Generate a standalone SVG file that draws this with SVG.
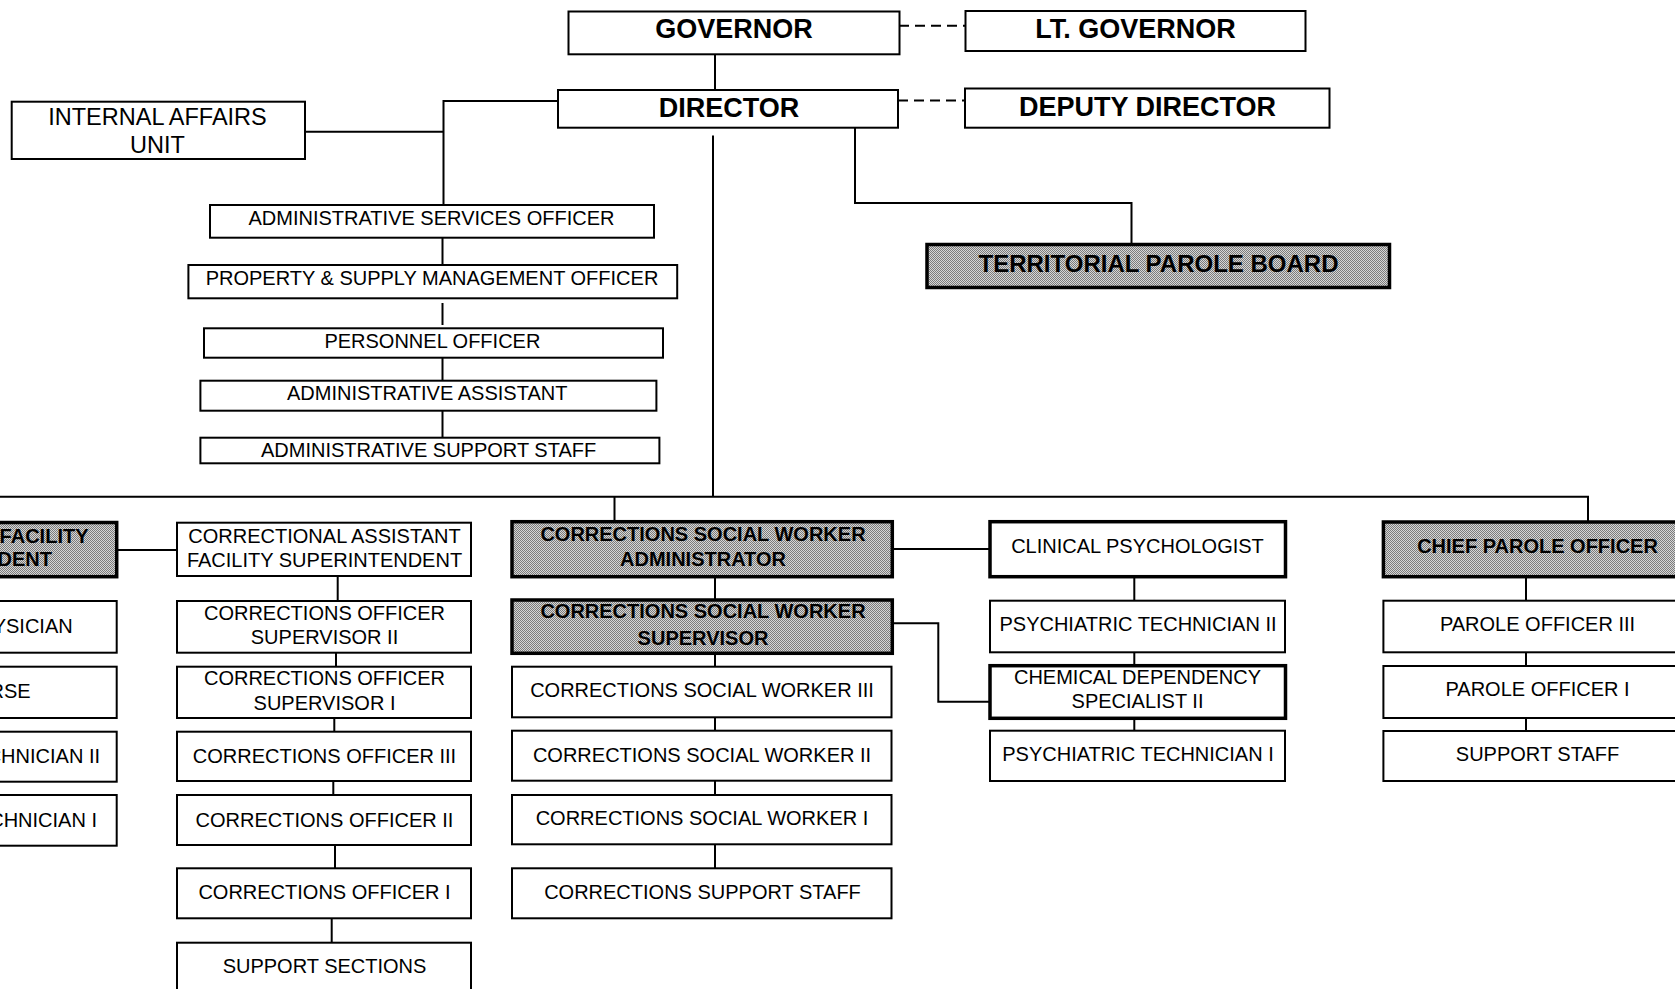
<svg xmlns="http://www.w3.org/2000/svg" width="1675" height="989" viewBox="0 0 1675 989">
<defs>
<pattern id="dither" width="2" height="2" patternUnits="userSpaceOnUse">
<rect width="2" height="2" fill="#d6d6d6"/>
<rect width="1" height="1" fill="#7c7c7c"/>
<rect x="1" y="1" width="1" height="1" fill="#7c7c7c"/>
</pattern>
<style>
.box{fill:#fff;stroke:#000;stroke-width:2}
.thick{stroke-width:3.5}
.gray{fill:url(#dither)}
text{font-family:"Liberation Sans",Arial,sans-serif;font-size:20px;text-anchor:middle;fill:#000}
.b{font-weight:bold}
.big{font-size:27px;font-weight:bold}
.end{text-anchor:end}
.ln{fill:none;stroke:#000;stroke-width:2}
.dash{stroke-dasharray:10 6}
</style>
</defs>
<rect width="1675" height="989" fill="#fff"/>

<g id="connectors">
<path class="ln" d="M715,54.3V90"/>
<path class="ln dash" d="M899,25.7H965.5"/>
<path class="ln dash" d="M898,100.5H965"/>
<path class="ln" d="M855,127.7V203H1131.5V244.5"/>
<path class="ln" d="M305,131.7H443.5"/>
<path class="ln" d="M443.5,205V101H558"/>
<path class="ln" d="M442.5,237.7V265"/>
<path class="ln" d="M442.5,303V325"/>
<path class="ln" d="M442.5,357.7V380.7"/>
<path class="ln" d="M442.5,410.7V437.7"/>
<path class="ln" d="M713,135.5V496.7"/>
<path class="ln" d="M0,496.7H1588V522"/>
<path class="ln" d="M614.5,496.7V521.7"/>
<path class="ln" d="M116.7,550H177"/>
<path class="ln" d="M337.7,576V601"/>
<path class="ln" d="M336,652.7V666.7"/>
<path class="ln" d="M334.3,718V731.7"/>
<path class="ln" d="M333.3,781V795"/>
<path class="ln" d="M335,845V868.3"/>
<path class="ln" d="M331.7,918.3V942.7"/>
<path class="ln" d="M715,576.7V600"/>
<path class="ln" d="M715,653.3V666.7"/>
<path class="ln" d="M715,717.3V730.7"/>
<path class="ln" d="M715,780.7V795"/>
<path class="ln" d="M715,844.3V868.3"/>
<path class="ln" d="M892.3,549H990"/>
<path class="ln" d="M892.3,623.3H938.3V701.7H990"/>
<path class="ln" d="M1134.3,576.7V600.7"/>
<path class="ln" d="M1134.3,652.3V665.7"/>
<path class="ln" d="M1134.3,718.3V730.7"/>
<path class="ln" d="M1526,576.7V600.7"/>
<path class="ln" d="M1526,652.3V666"/>
<path class="ln" d="M1526,718V731"/>
</g>

<g id="governor"><rect class="box" x="568.5" y="11.5" width="331" height="42.8"/><text class="big" x="734" y="37.5">GOVERNOR</text></g>
<g id="lt-governor"><rect class="box" x="965.5" y="11" width="340" height="40"/><text class="big" x="1135.5" y="38">LT. GOVERNOR</text></g>
<g id="director"><rect class="box" x="558" y="90" width="340" height="37.7"/><text class="big" x="729" y="117.3">DIRECTOR</text></g>
<g id="deputy-director"><rect class="box" x="965" y="88.5" width="364.5" height="39.2"/><text class="big" x="1147.5" y="116">DEPUTY DIRECTOR</text></g>
<g id="internal-affairs"><rect class="box" x="11.7" y="101.7" width="293.3" height="57.3"/><text x="157.5" y="125" style="font-size:23.5px">INTERNAL AFFAIRS</text><text x="157.5" y="153.3" style="font-size:23.5px">UNIT</text></g>
<g id="parole-board"><rect class="box gray thick" x="927" y="244.5" width="462.5" height="43"/><text class="b" x="1158.5" y="271.5" style="font-size:24px">TERRITORIAL PAROLE BOARD</text></g>

<g id="admin-services"><rect class="box" x="210" y="205" width="444" height="32.7"/><text x="431.5" y="225">ADMINISTRATIVE SERVICES OFFICER</text></g>
<g id="property-supply"><rect class="box" x="188.4" y="265" width="488.8" height="33.3"/><text x="432" y="285">PROPERTY &amp; SUPPLY MANAGEMENT OFFICER</text></g>
<g id="personnel"><rect class="box" x="204" y="328.3" width="459" height="29.4"/><text x="432.4" y="347.5">PERSONNEL OFFICER</text></g>
<g id="admin-assistant"><rect class="box" x="200.4" y="380.7" width="456" height="30"/><text x="427.2" y="400">ADMINISTRATIVE ASSISTANT</text></g>
<g id="admin-support"><rect class="box" x="200.4" y="437.7" width="459" height="25.6"/><text x="428.6" y="457">ADMINISTRATIVE SUPPORT STAFF</text></g>

<g id="facility-superintendent"><rect class="box gray thick" x="-178" y="522.5" width="294.7" height="54.2"/><text class="b end" x="88.5" y="543.3">FACILITY</text><text class="b end" x="52" y="566">DENT</text></g>
<g id="physician"><rect class="box" x="-178" y="601" width="294.7" height="51.7"/><text class="end" x="72.7" y="633.3">YSICIAN</text></g>
<g id="nurse"><rect class="box" x="-178" y="666.7" width="294.7" height="51.3"/><text class="end" x="30.7" y="698.3">RSE</text></g>
<g id="technician-2"><rect class="box" x="-178" y="731.7" width="294.7" height="50"/><text class="end" x="100" y="763.3">CHNICIAN II</text></g>
<g id="technician-1"><rect class="box" x="-178" y="795" width="294.7" height="50.7"/><text class="end" x="97" y="826.7">CHNICIAN I</text></g>

<g id="cafs"><rect class="box" x="177" y="522.7" width="294" height="53.3"/><text x="324.5" y="543.3">CORRECTIONAL ASSISTANT</text><text x="324.5" y="567.3">FACILITY SUPERINTENDENT</text></g>
<g id="cos-2"><rect class="box" x="177" y="601" width="294" height="51.7"/><text x="324.5" y="620">CORRECTIONS OFFICER</text><text x="324.5" y="644.3">SUPERVISOR II</text></g>
<g id="cos-1"><rect class="box" x="177" y="666.7" width="294" height="51.3"/><text x="324.5" y="685">CORRECTIONS OFFICER</text><text x="324.5" y="710">SUPERVISOR I</text></g>
<g id="co-3"><rect class="box" x="177" y="731.7" width="294" height="49.3"/><text x="324.5" y="762.7">CORRECTIONS OFFICER III</text></g>
<g id="co-2"><rect class="box" x="177" y="795" width="294" height="50"/><text x="324.5" y="826.7">CORRECTIONS OFFICER II</text></g>
<g id="co-1"><rect class="box" x="177" y="868.3" width="294" height="50"/><text x="324.5" y="899.3">CORRECTIONS OFFICER I</text></g>
<g id="support-sections"><rect class="box" x="177" y="942.7" width="294" height="60"/><text x="324.5" y="972.7">SUPPORT SECTIONS</text></g>

<g id="csw-administrator"><rect class="box gray thick" x="512" y="521.7" width="380.3" height="55"/><text class="b" x="703" y="541">CORRECTIONS SOCIAL WORKER</text><text class="b" x="703" y="566">ADMINISTRATOR</text></g>
<g id="csw-supervisor"><rect class="box gray thick" x="512" y="600" width="380.3" height="53.3"/><text class="b" x="703" y="618.3">CORRECTIONS SOCIAL WORKER</text><text class="b" x="703" y="645">SUPERVISOR</text></g>
<g id="csw-3"><rect class="box" x="512" y="666.7" width="379.5" height="50.6"/><text x="702" y="696.7">CORRECTIONS SOCIAL WORKER III</text></g>
<g id="csw-2"><rect class="box" x="512" y="730.7" width="379.5" height="50"/><text x="702" y="761.7">CORRECTIONS SOCIAL WORKER II</text></g>
<g id="csw-1"><rect class="box" x="512" y="795" width="379.5" height="49.3"/><text x="702" y="825">CORRECTIONS SOCIAL WORKER I</text></g>
<g id="corrections-support"><rect class="box" x="512" y="868.3" width="379.5" height="50"/><text x="702.5" y="899.3">CORRECTIONS SUPPORT STAFF</text></g>

<g id="clinical-psychologist"><rect class="box thick" x="990" y="521.7" width="295.5" height="55"/><text x="1137.5" y="552.7">CLINICAL PSYCHOLOGIST</text></g>
<g id="psych-tech-2"><rect class="box" x="990" y="600.7" width="295" height="51.6"/><text x="1138" y="630.7">PSYCHIATRIC TECHNICIAN II</text></g>
<g id="chem-dependency"><rect class="box thick" x="990" y="665.7" width="295.5" height="52.6"/><text x="1137.5" y="684">CHEMICAL DEPENDENCY</text><text x="1137.5" y="708">SPECIALIST II</text></g>
<g id="psych-tech-1"><rect class="box" x="990" y="730.7" width="295" height="50.3"/><text x="1138" y="761">PSYCHIATRIC TECHNICIAN I</text></g>

<g id="chief-parole"><rect class="box gray thick" x="1383.4" y="522" width="310" height="54.7"/><text class="b" x="1537.5" y="552.5">CHIEF PAROLE OFFICER</text></g>
<g id="parole-3"><rect class="box" x="1383.4" y="600.7" width="310" height="51.6"/><text x="1537.5" y="630.7">PAROLE OFFICER III</text></g>
<g id="parole-1"><rect class="box" x="1383.4" y="666" width="310" height="52"/><text x="1537.5" y="696">PAROLE OFFICER I</text></g>
<g id="support-staff"><rect class="box" x="1383.4" y="731" width="310" height="50"/><text x="1537.5" y="761">SUPPORT STAFF</text></g>
</svg>
